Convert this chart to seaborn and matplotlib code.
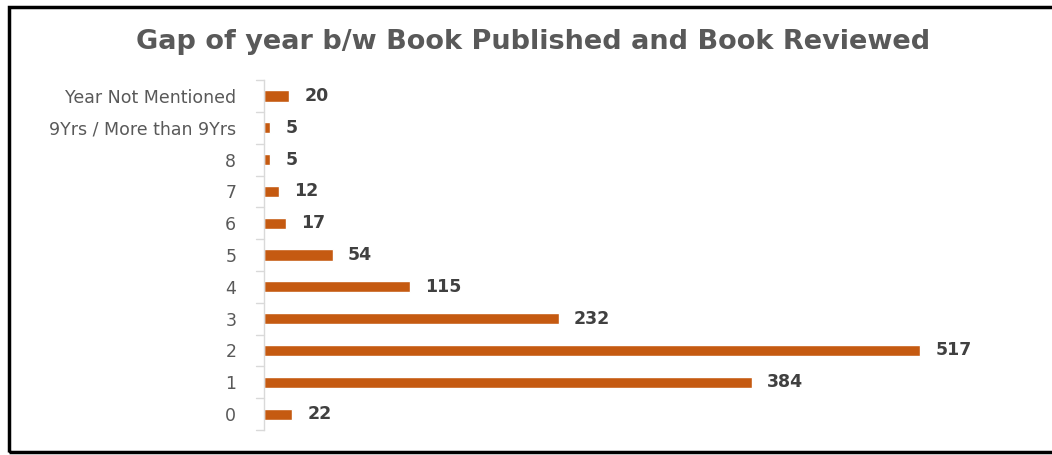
import matplotlib
matplotlib.use("Agg")
import matplotlib.pyplot as plt
import seaborn as sns
import pandas as pd
from matplotlib.patches import Rectangle

categories = ["Year Not Mentioned", "9Yrs / More than 9Yrs", "8", "7", "6", "5", "4", "3", "2", "1", "0"]
values = [20, 5, 5, 12, 17, 54, 115, 232, 517, 384, 22]
title = "Gap of year b/w Book Published and Book Reviewed"

sns.set_theme(style="white")
plt.rcParams['font.family'] = ['DejaVu Sans']

df = pd.DataFrame({"cat": categories, "val": values})

fig = plt.figure(figsize=(10.52, 4.55), dpi=100)
ax = fig.add_axes([0.251, 0.055, 0.724, 0.769])
sns.barplot(data=df, y="cat", x="val", orient="h", color="#C55A11", width=0.35,
            saturation=1, ax=ax, order=categories)
ax.set_xlim(0, 600)
ax.set_ylim(len(categories) - 0.5, -0.5)
ax.set_xlabel("")
ax.set_ylabel("")
ax.set_xticks([])
for s in ["top", "right", "bottom"]:
    ax.spines[s].set_visible(False)
ax.spines["left"].set_color("#D9D9D9")
ax.spines["left"].set_linewidth(1)
ax.tick_params(axis="y", length=0, labelsize=12.5, labelcolor="#595959", pad=20)
for i, v in enumerate(values):
    ax.text(v + 12, i, str(v), va="center", ha="left", fontsize=12.5,
            fontweight="bold", color="#404040")
for k in range(len(categories) + 1):
    ax.plot([-6, 0], [k - 0.5, k - 0.5], color="#D9D9D9", lw=1, clip_on=False)

fig.text(0.507, 0.907, title, ha="center", va="center", fontsize=19.5,
         fontweight="bold", color="#595959")
fig.patches.append(Rectangle((0.009, 0.007), 1.1, 0.978, transform=fig.transFigure,
                             fill=False, edgecolor="black", lw=2.5, clip_on=False))
fig.savefig("out.png", dpi=100, facecolor="white")
